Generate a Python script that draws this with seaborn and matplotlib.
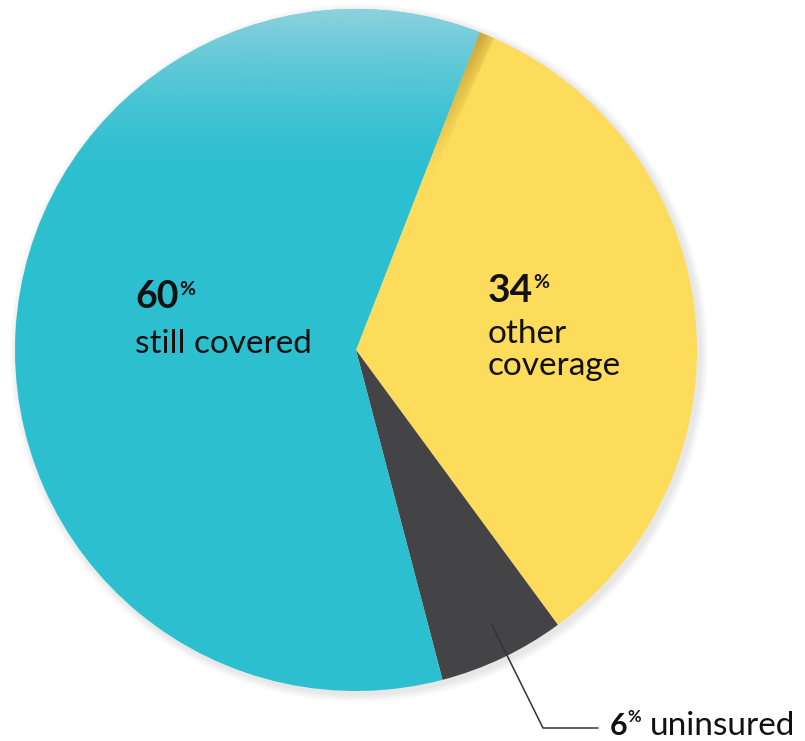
import numpy as np
import matplotlib.pyplot as plt
import seaborn as sns
from matplotlib.patches import Wedge, Circle

# Dados do gráfico
categorias = ['other coverage', 'uninsured', 'still covered']
percentuais = [34, 6, 60]
cores = ['#fddc5c', '#444446', '#2cbfd0']

sns.set_theme(style='white')
plt.rcParams['font.family'] = ['Lato', 'DejaVu Sans']

fig = plt.figure(figsize=(8.05, 7.41), dpi=100)
ax = fig.add_axes([0, 0, 1, 1])

centro = (356, 350)
raio = 341
h, wd = 741, 805

# Sombra suave atrás da pizza
for k in range(1, 9):
    ax.add_patch(Circle((centro[0] + 3, centro[1] + 3), raio + k, color='#888888',
                        alpha=0.025, lw=0, zorder=0))

# Eixo y invertido: counterclock=True gira no sentido horário na tela
wedges, _ = ax.pie(percentuais, colors=cores, startangle=-68.7, counterclock=True,
                   center=centro, radius=raio, wedgeprops={'linewidth': 0})
for w in wedges:
    w.set_zorder(1)

# Brilho no topo da fatia azul
yy = np.arange(h)[:, None] * np.ones((1, wd))
alfa = np.clip(1 - (yy - 9) / 170, 0, 1) ** 1.6 * 0.84
img = np.zeros((h, wd, 4))
img[..., 0] = 160 / 255
img[..., 1] = 213 / 255
img[..., 2] = 225 / 255
img[..., 3] = alfa
im = ax.imshow(img, extent=(0, 805, 741, 0), origin='upper', zorder=2, interpolation='bilinear')
im.set_clip_path(wedges[2])

# Faixa dourada na borda da fatia amarela (some em direção ao centro)
xx = np.arange(wd)[None, :] * np.ones((h, 1))
dist = np.hypot(xx - centro[0], yy - centro[1])
ang = np.degrees(np.arctan2(yy - centro[1], xx - centro[0]))
alfa2 = np.clip((dist - 190) / (raio - 190), 0, 1) ** 0.9
alfa2 *= np.clip(1 - (ang + 68.7) / 2.6, 0, 1) ** 0.6 * 0.95
img2 = np.zeros((h, wd, 4))
img2[..., 0] = 200 / 255
img2[..., 1] = 165 / 255
img2[..., 2] = 55 / 255
img2[..., 3] = alfa2
faixa = Wedge(centro, raio, -68.7, -66.1, width=raio - 180, transform=ax.transData)
im2 = ax.imshow(img2, extent=(0, 805, 741, 0), origin='upper', zorder=3, interpolation='bilinear')
im2.set_clip_path(faixa)

# Rótulos
cor_txt = '#111111'
ax.text(135, 308, f'{percentuais[2]}', fontsize=27, fontweight='bold', color=cor_txt, va='baseline', zorder=5)
ax.text(179, 295, '%', fontsize=14, fontweight='bold', color=cor_txt, va='baseline', zorder=5)
ax.text(135, 353, categorias[2], fontsize=24, color=cor_txt, va='baseline', zorder=5)

ax.text(488, 302, f'{percentuais[0]}', fontsize=28, fontweight='bold', color=cor_txt, va='baseline', zorder=5)
ax.text(533, 288, '%', fontsize=14, fontweight='bold', color=cor_txt, va='baseline', zorder=5)
linhas = categorias[0].split(' ')
ax.text(488, 343, linhas[0], fontsize=24, color=cor_txt, va='baseline', zorder=5)
ax.text(488, 375, linhas[1], fontsize=24, color=cor_txt, va='baseline', zorder=5)

# Linha de chamada para "uninsured"
ax.plot([492, 543, 598], [625, 728, 728], color='#333333', lw=1.1, zorder=5)
ax.text(610, 735, f'{percentuais[1]}', fontsize=22, fontweight='bold', color=cor_txt, va='baseline', zorder=5)
ax.text(627, 722, '%', fontsize=12, fontweight='bold', color=cor_txt, va='baseline', zorder=5)
ax.text(650, 735, categorias[1], fontsize=24, color=cor_txt, va='baseline', zorder=5)

ax.set_xlim(0, 805)
ax.set_ylim(741, 0)
ax.set_aspect('equal')
ax.axis('off')

fig.savefig('out.png', dpi=100, facecolor='white')
